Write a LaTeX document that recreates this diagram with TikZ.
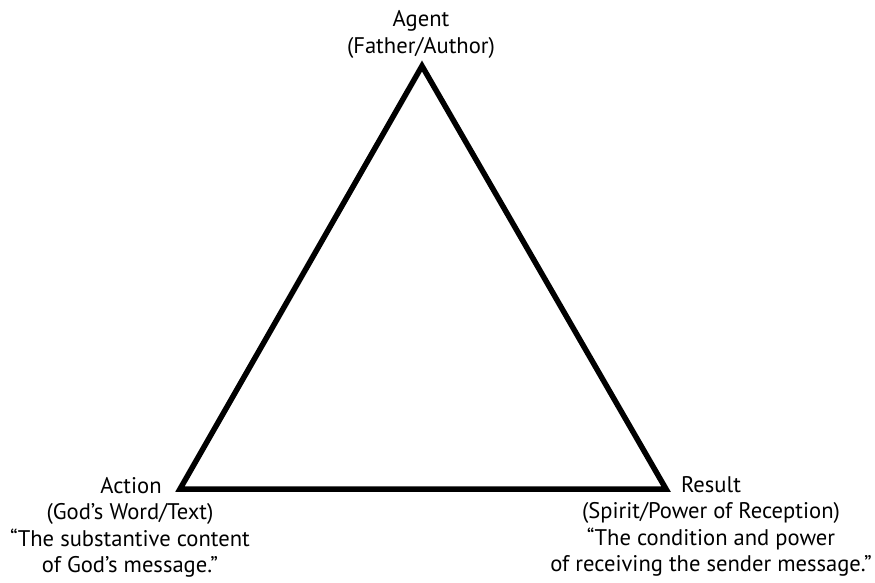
\documentclass[tikz,border=0pt]{standalone}
\usepackage{fontspec}
\setmainfont{PT Sans}
\begin{document}
\begin{tikzpicture}[x=1pt,y=-1pt,
  edge/.style={line width=5.5pt,line join=miter},
  lbl/.style={align=center,inner sep=0pt,anchor=north,
    font=\fontsize{22.6}{26.5}\selectfont}]
\useasboundingbox (0,0) rectangle (875,583);
% vertices of the triangle
\coordinate (agent)  at (422,66);
\coordinate (action) at (180,489);
\coordinate (result) at (666,489);
\draw[edge] (agent) -- (action) -- (result) -- cycle;
% labels
\node[lbl] (agentlbl) at (421,10.5) {Agent\\(Father/Author)};
\node[lbl] (actionlbl) at (130,477) {\hspace*{2pt}Action\\(God’s Word/Text)\\“The substantive content\\of God’s message.”};
\node[lbl] (resultlbl) at (711,476) {Result\\(Spirit/Power of Reception)\\“The condition and power\\of receiving the sender message.”};
\end{tikzpicture}
\end{document}
